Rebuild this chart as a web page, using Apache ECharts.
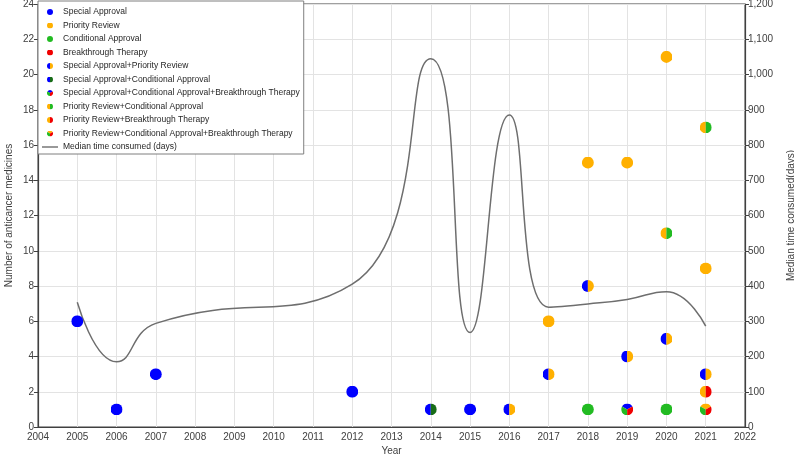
<!DOCTYPE html>
<html>
<head>
<meta charset="utf-8">
<script src="https://cdn.jsdelivr.net/npm/echarts@6/dist/echarts.min.js"></script>
<style>
html,body{margin:0;padding:0;background:#fff;}
#main{width:794px;height:457px;}
</style>
</head>
<body>
<div id="main"></div>
<script>
// ---- Data ----
var specialApproval = [[2005, 6], [2006, 1], [2007, 3], [2012, 2], [2015, 1]];
var priorityReview = [[2017, 6], [2018, 15], [2019, 15], [2020, 21], [2021, 9]];
var conditionalApproval = [[2018, 1], [2020, 1]];
var breakthroughTherapy = [];
var saPr = [[2016, 1], [2017, 3], [2018, 8], [2019, 4], [2020, 5], [2021, 3]];
var saCa = [[2014, 1]];
var saCaBt = [[2019, 1]];
var prCa = [[2020, 11], [2021, 17]];
var prBt = [[2021, 2]];
var prCaBt = [[2021, 1]];

var medianYears = [2005, 2006, 2007, 2012, 2014, 2015, 2016, 2017, 2018, 2019, 2020, 2021];
var medianDays = [354, 185, 294, 405, 1045, 268, 885, 340, 349, 362, 384, 286];

var leftTicks = {min: 0, max: 24, interval: 2};
var rightTicks = {min: 0, max: 1200, interval: 100};
var yearTicks = {min: 2004, max: 2022, interval: 1};

// ---- Styling ----
var BLUE = '#0000FF', ORANGE = '#FFB000', GREEN = '#22BB22', RED = '#F00000', DKGREEN = '#186C18';
var FONT = '"Liberation Sans", Arial, sans-serif';
var LINE_NAME = 'Median time consumed (days)';

function svgIcon(colors) {
  var s = '<svg xmlns="http://www.w3.org/2000/svg" width="20" height="20" viewBox="0 0 20 20">';
  if (colors.length === 1) {
    s += '<circle cx="10" cy="10" r="10" fill="' + colors[0] + '"/>';
  } else if (colors.length === 2) {
    s += '<path d="M10,0 A10,10 0 0,0 10,20 Z" fill="' + colors[0] + '"/>';
    s += '<path d="M10,0 A10,10 0 0,1 10,20 Z" fill="' + colors[1] + '"/>';
  } else {
    s += '<path d="M10,10 L1.34,5 A10,10 0 0,1 18.66,5 Z" fill="' + colors[0] + '"/>';
    s += '<path d="M10,10 L10,20 A10,10 0 0,1 1.34,5 Z" fill="' + colors[1] + '"/>';
    s += '<path d="M10,10 L18.66,5 A10,10 0 0,1 10,20 Z" fill="' + colors[2] + '"/>';
  }
  s += '</svg>';
  return 'image://data:image/svg+xml;charset=utf-8,' + encodeURIComponent(s);
}

var pointSeriesDefs = [
  {name: 'Special Approval', data: specialApproval, colors: [BLUE]},
  {name: 'Priority Review', data: priorityReview, colors: [ORANGE]},
  {name: 'Conditional Approval', data: conditionalApproval, colors: [GREEN]},
  {name: 'Breakthrough Therapy', data: breakthroughTherapy, colors: [RED]},
  {name: 'Special Approval+Priority Review', data: saPr, colors: [BLUE, ORANGE]},
  {name: 'Special Approval+Conditional Approval', data: saCa, colors: [BLUE, DKGREEN]},
  {name: 'Special Approval+Conditional Approval+Breakthrough Therapy', data: saCaBt, colors: [BLUE, GREEN, RED]},
  {name: 'Priority Review+Conditional Approval', data: prCa, colors: [ORANGE, GREEN]},
  {name: 'Priority Review+Breakthrough Therapy', data: prBt, colors: [ORANGE, RED]},
  {name: 'Priority Review+Conditional Approval+Breakthrough Therapy', data: prCaBt, colors: [ORANGE, GREEN, RED]}
];

var series = pointSeriesDefs.map(function (d) {
  return {
    name: d.name,
    type: 'scatter',
    yAxisIndex: 0,
    data: d.data,
    symbol: svgIcon(d.colors),
    symbolSize: 12,
    symbolKeepAspect: true,
    itemStyle: {color: d.colors[0], opacity: 1},
    emphasis: {disabled: true},
    z: 3
  };
});

series.push({
  name: LINE_NAME,
  type: 'line',
  yAxisIndex: 1,
  data: medianYears.map(function (y, i) { return [y, medianDays[i]]; }),
  smooth: 0.5,
  symbol: 'none',
  showSymbol: false,
  lineStyle: {color: '#6E6E6E', width: 1.5},
  itemStyle: {color: '#6E6E6E'},
  z: 2
});

var axisLabelStyle = {color: '#404040', fontFamily: FONT, fontSize: 10};
var axisLineStyle = {show: true, lineStyle: {color: '#404040', width: 1.2}};
var splitLineStyle = {show: true, lineStyle: {color: '#E3E3E3', width: 1}};

var legendData = pointSeriesDefs.map(function (d) { return {name: d.name}; });
legendData.push({name: LINE_NAME, icon: 'path://M0,0H16V1.4H0Z'});

var chart = echarts.init(document.getElementById('main'), null, {renderer: 'canvas'});
chart.setOption({
  animation: false,
  backgroundColor: '#ffffff',
  grid: {left: 38, right: 49, top: 4, bottom: 30, show: true, borderColor: '#404040', borderWidth: 1,
         containLabel: false, outerBoundsMode: 'none'},
  legend: {
    orient: 'vertical',
    left: 38,
    top: 1,
    padding: [5, 4, 1, 4],
    itemWidth: 16,
    itemHeight: 6,
    itemGap: 1.5,
    backgroundColor: '#ffffff',
    borderColor: '#7F7F7F',
    borderWidth: 1,
    textStyle: {color: '#262626', fontFamily: FONT, fontSize: 8.5, lineHeight: 12},
    data: legendData
  },
  xAxis: {
    type: 'value',
    min: yearTicks.min,
    max: yearTicks.max,
    interval: yearTicks.interval,
    name: 'Year',
    nameLocation: 'middle',
    nameGap: 19,
    nameMoveOverlap: false,
    nameTextStyle: {color: '#404040', fontFamily: FONT, fontSize: 10},
    axisLine: axisLineStyle,
    axisTick: {show: false},
    axisLabel: Object.assign({margin: 5, formatter: function (v) { return String(v); }}, axisLabelStyle),
    splitLine: splitLineStyle
  },
  yAxis: [
    {
      type: 'value',
      position: 'left',
      min: leftTicks.min,
      max: leftTicks.max,
      interval: leftTicks.interval,
      name: 'Number of anticancer medicines',
      nameLocation: 'middle',
      nameRotate: 90,
      nameGap: 24,
      nameMoveOverlap: false,
      nameTextStyle: {color: '#404040', fontFamily: FONT, fontSize: 10},
      axisLine: axisLineStyle,
      axisTick: {show: true, inside: false, length: 4, lineStyle: {color: '#404040'}},
      axisLabel: Object.assign({margin: 4}, axisLabelStyle),
      splitLine: splitLineStyle
    },
    {
      type: 'value',
      position: 'right',
      min: rightTicks.min,
      max: rightTicks.max,
      interval: rightTicks.interval,
      name: 'Median time consumed(days)',
      nameLocation: 'middle',
      nameRotate: 90,
      nameGap: 41,
      nameMoveOverlap: false,
      nameTextStyle: {color: '#404040', fontFamily: FONT, fontSize: 10},
      axisLine: axisLineStyle,
      axisTick: {show: true, inside: false, length: 4, lineStyle: {color: '#404040'}},
      axisLabel: Object.assign({margin: 3, formatter: function (v) { return v.toLocaleString('en-US'); }}, axisLabelStyle),
      splitLine: {show: false}
    }
  ],
  series: series
});
</script>
</body>
</html>
